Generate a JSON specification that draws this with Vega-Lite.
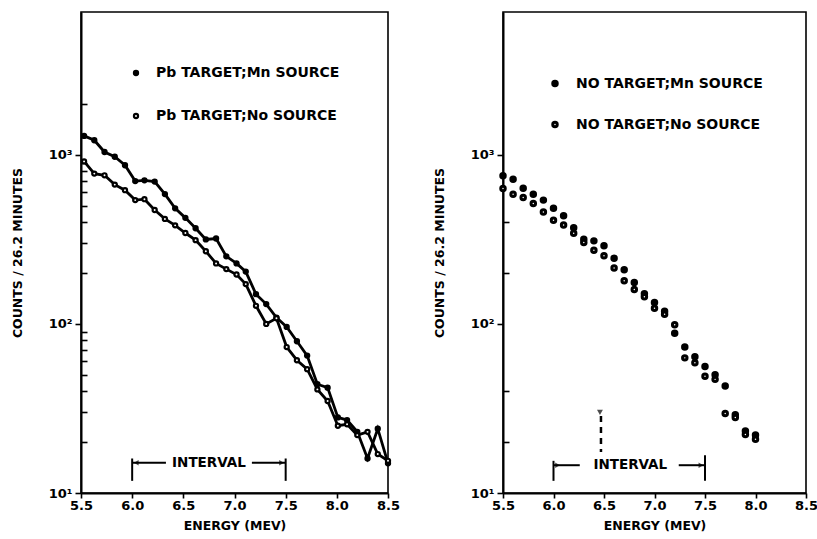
{
  "$schema": "https://vega.github.io/schema/vega-lite/v6.json",
  "background": "white",
  "padding": {"left": 10, "top": 11, "right": 0, "bottom": 0},
  "config": {
    "font": "DejaVu Sans",
    "view": {"stroke": "black", "strokeWidth": 1.6},
    "axis": {
      "domainColor": "black", "domainWidth": 2, "tickColor": "black", "tickWidth": 1.6,
      "labelFont": "DejaVu Sans", "labelFontWeight": "bold", "labelFontSize": 13, "labelColor": "black",
      "titleFont": "DejaVu Sans", "titleFontWeight": "bold", "titleFontSize": 12.5, "titleColor": "black",
      "grid": false
    },
    "legend": {
      "orient": "none", "title": null, "symbolType": "circle", "symbolSize": 17,
      "symbolStrokeColor": "black", "symbolStrokeWidth": 2.2,
      "labelFont": "DejaVu Sans", "labelFontWeight": "bold", "labelFontSize": 14, "labelColor": "black",
      "labelOffset": 13, "labelLimit": 400
    }
  },
  "resolve": {"scale": {"fill": "independent"}, "legend": {"fill": "independent"}},
  "spacing": 31,
  "datasets": {
    "left": [
      {"energy": 5.53, "counts": 1295, "series": "Pb TARGET;Mn SOURCE"},
      {"energy": 5.63, "counts": 1220, "series": "Pb TARGET;Mn SOURCE"},
      {"energy": 5.73, "counts": 1040, "series": "Pb TARGET;Mn SOURCE"},
      {"energy": 5.83, "counts": 975, "series": "Pb TARGET;Mn SOURCE"},
      {"energy": 5.93, "counts": 868, "series": "Pb TARGET;Mn SOURCE"},
      {"energy": 6.03, "counts": 700, "series": "Pb TARGET;Mn SOURCE"},
      {"energy": 6.12, "counts": 707, "series": "Pb TARGET;Mn SOURCE"},
      {"energy": 6.22, "counts": 695, "series": "Pb TARGET;Mn SOURCE"},
      {"energy": 6.32, "counts": 586, "series": "Pb TARGET;Mn SOURCE"},
      {"energy": 6.42, "counts": 483, "series": "Pb TARGET;Mn SOURCE"},
      {"energy": 6.52, "counts": 424, "series": "Pb TARGET;Mn SOURCE"},
      {"energy": 6.62, "counts": 368, "series": "Pb TARGET;Mn SOURCE"},
      {"energy": 6.72, "counts": 316, "series": "Pb TARGET;Mn SOURCE"},
      {"energy": 6.82, "counts": 320, "series": "Pb TARGET;Mn SOURCE"},
      {"energy": 6.92, "counts": 251, "series": "Pb TARGET;Mn SOURCE"},
      {"energy": 7.02, "counts": 228, "series": "Pb TARGET;Mn SOURCE"},
      {"energy": 7.11, "counts": 204, "series": "Pb TARGET;Mn SOURCE"},
      {"energy": 7.21, "counts": 150, "series": "Pb TARGET;Mn SOURCE"},
      {"energy": 7.31, "counts": 131, "series": "Pb TARGET;Mn SOURCE"},
      {"energy": 7.41, "counts": 109, "series": "Pb TARGET;Mn SOURCE"},
      {"energy": 7.51, "counts": 96, "series": "Pb TARGET;Mn SOURCE"},
      {"energy": 7.61, "counts": 79, "series": "Pb TARGET;Mn SOURCE"},
      {"energy": 7.71, "counts": 65, "series": "Pb TARGET;Mn SOURCE"},
      {"energy": 7.81, "counts": 44, "series": "Pb TARGET;Mn SOURCE"},
      {"energy": 7.91, "counts": 42, "series": "Pb TARGET;Mn SOURCE"},
      {"energy": 8.01, "counts": 28, "series": "Pb TARGET;Mn SOURCE"},
      {"energy": 8.10, "counts": 27, "series": "Pb TARGET;Mn SOURCE"},
      {"energy": 8.20, "counts": 23, "series": "Pb TARGET;Mn SOURCE"},
      {"energy": 8.30, "counts": 16, "series": "Pb TARGET;Mn SOURCE"},
      {"energy": 8.40, "counts": 24, "series": "Pb TARGET;Mn SOURCE"},
      {"energy": 8.50, "counts": 15, "series": "Pb TARGET;Mn SOURCE"},
      {"energy": 5.53, "counts": 915, "series": "Pb TARGET;No SOURCE"},
      {"energy": 5.63, "counts": 775, "series": "Pb TARGET;No SOURCE"},
      {"energy": 5.73, "counts": 757, "series": "Pb TARGET;No SOURCE"},
      {"energy": 5.83, "counts": 667, "series": "Pb TARGET;No SOURCE"},
      {"energy": 5.93, "counts": 618, "series": "Pb TARGET;No SOURCE"},
      {"energy": 6.03, "counts": 540, "series": "Pb TARGET;No SOURCE"},
      {"energy": 6.12, "counts": 547, "series": "Pb TARGET;No SOURCE"},
      {"energy": 6.22, "counts": 472, "series": "Pb TARGET;No SOURCE"},
      {"energy": 6.32, "counts": 418, "series": "Pb TARGET;No SOURCE"},
      {"energy": 6.42, "counts": 383, "series": "Pb TARGET;No SOURCE"},
      {"energy": 6.52, "counts": 345, "series": "Pb TARGET;No SOURCE"},
      {"energy": 6.62, "counts": 313, "series": "Pb TARGET;No SOURCE"},
      {"energy": 6.72, "counts": 269, "series": "Pb TARGET;No SOURCE"},
      {"energy": 6.82, "counts": 228, "series": "Pb TARGET;No SOURCE"},
      {"energy": 6.92, "counts": 211, "series": "Pb TARGET;No SOURCE"},
      {"energy": 7.02, "counts": 196, "series": "Pb TARGET;No SOURCE"},
      {"energy": 7.11, "counts": 172, "series": "Pb TARGET;No SOURCE"},
      {"energy": 7.21, "counts": 128, "series": "Pb TARGET;No SOURCE"},
      {"energy": 7.31, "counts": 100, "series": "Pb TARGET;No SOURCE"},
      {"energy": 7.41, "counts": 108, "series": "Pb TARGET;No SOURCE"},
      {"energy": 7.51, "counts": 73, "series": "Pb TARGET;No SOURCE"},
      {"energy": 7.61, "counts": 61, "series": "Pb TARGET;No SOURCE"},
      {"energy": 7.71, "counts": 54, "series": "Pb TARGET;No SOURCE"},
      {"energy": 7.81, "counts": 41, "series": "Pb TARGET;No SOURCE"},
      {"energy": 7.91, "counts": 35, "series": "Pb TARGET;No SOURCE"},
      {"energy": 8.01, "counts": 25, "series": "Pb TARGET;No SOURCE"},
      {"energy": 8.10, "counts": 25.5, "series": "Pb TARGET;No SOURCE"},
      {"energy": 8.20, "counts": 22, "series": "Pb TARGET;No SOURCE"},
      {"energy": 8.30, "counts": 23, "series": "Pb TARGET;No SOURCE"},
      {"energy": 8.40, "counts": 17, "series": "Pb TARGET;No SOURCE"},
      {"energy": 8.50, "counts": 15.5, "series": "Pb TARGET;No SOURCE"}
    ],
    "right": [
      {"energy": 5.5, "counts": 752, "series": "NO TARGET;Mn SOURCE"},
      {"energy": 5.6, "counts": 718, "series": "NO TARGET;Mn SOURCE"},
      {"energy": 5.7, "counts": 635, "series": "NO TARGET;Mn SOURCE"},
      {"energy": 5.8, "counts": 585, "series": "NO TARGET;Mn SOURCE"},
      {"energy": 5.9, "counts": 540, "series": "NO TARGET;Mn SOURCE"},
      {"energy": 6.0, "counts": 484, "series": "NO TARGET;Mn SOURCE"},
      {"energy": 6.1, "counts": 436, "series": "NO TARGET;Mn SOURCE"},
      {"energy": 6.2, "counts": 371, "series": "NO TARGET;Mn SOURCE"},
      {"energy": 6.3, "counts": 317, "series": "NO TARGET;Mn SOURCE"},
      {"energy": 6.4, "counts": 310, "series": "NO TARGET;Mn SOURCE"},
      {"energy": 6.5, "counts": 290, "series": "NO TARGET;Mn SOURCE"},
      {"energy": 6.6, "counts": 245, "series": "NO TARGET;Mn SOURCE"},
      {"energy": 6.7, "counts": 209, "series": "NO TARGET;Mn SOURCE"},
      {"energy": 6.8, "counts": 176, "series": "NO TARGET;Mn SOURCE"},
      {"energy": 6.9, "counts": 151, "series": "NO TARGET;Mn SOURCE"},
      {"energy": 7.0, "counts": 134, "series": "NO TARGET;Mn SOURCE"},
      {"energy": 7.1, "counts": 119, "series": "NO TARGET;Mn SOURCE"},
      {"energy": 7.2, "counts": 88, "series": "NO TARGET;Mn SOURCE"},
      {"energy": 7.3, "counts": 73, "series": "NO TARGET;Mn SOURCE"},
      {"energy": 7.4, "counts": 64, "series": "NO TARGET;Mn SOURCE"},
      {"energy": 7.5, "counts": 56, "series": "NO TARGET;Mn SOURCE"},
      {"energy": 7.6, "counts": 50, "series": "NO TARGET;Mn SOURCE"},
      {"energy": 7.7, "counts": 43, "series": "NO TARGET;Mn SOURCE"},
      {"energy": 7.8, "counts": 29, "series": "NO TARGET;Mn SOURCE"},
      {"energy": 7.9, "counts": 23.3, "series": "NO TARGET;Mn SOURCE"},
      {"energy": 8.0, "counts": 22, "series": "NO TARGET;Mn SOURCE"},
      {"energy": 5.5, "counts": 632, "series": "NO TARGET;No SOURCE"},
      {"energy": 5.6, "counts": 585, "series": "NO TARGET;No SOURCE"},
      {"energy": 5.7, "counts": 559, "series": "NO TARGET;No SOURCE"},
      {"energy": 5.8, "counts": 515, "series": "NO TARGET;No SOURCE"},
      {"energy": 5.9, "counts": 460, "series": "NO TARGET;No SOURCE"},
      {"energy": 6.0, "counts": 411, "series": "NO TARGET;No SOURCE"},
      {"energy": 6.1, "counts": 385, "series": "NO TARGET;No SOURCE"},
      {"energy": 6.2, "counts": 344, "series": "NO TARGET;No SOURCE"},
      {"energy": 6.3, "counts": 303, "series": "NO TARGET;No SOURCE"},
      {"energy": 6.4, "counts": 273, "series": "NO TARGET;No SOURCE"},
      {"energy": 6.5, "counts": 253, "series": "NO TARGET;No SOURCE"},
      {"energy": 6.6, "counts": 214, "series": "NO TARGET;No SOURCE"},
      {"energy": 6.7, "counts": 180, "series": "NO TARGET;No SOURCE"},
      {"energy": 6.8, "counts": 160, "series": "NO TARGET;No SOURCE"},
      {"energy": 6.9, "counts": 145, "series": "NO TARGET;No SOURCE"},
      {"energy": 7.0, "counts": 124, "series": "NO TARGET;No SOURCE"},
      {"energy": 7.1, "counts": 114, "series": "NO TARGET;No SOURCE"},
      {"energy": 7.2, "counts": 99, "series": "NO TARGET;No SOURCE"},
      {"energy": 7.3, "counts": 63, "series": "NO TARGET;No SOURCE"},
      {"energy": 7.4, "counts": 59, "series": "NO TARGET;No SOURCE"},
      {"energy": 7.5, "counts": 49, "series": "NO TARGET;No SOURCE"},
      {"energy": 7.6, "counts": 47, "series": "NO TARGET;No SOURCE"},
      {"energy": 7.7, "counts": 29.5, "series": "NO TARGET;No SOURCE"},
      {"energy": 7.8, "counts": 28, "series": "NO TARGET;No SOURCE"},
      {"energy": 7.9, "counts": 22.2, "series": "NO TARGET;No SOURCE"},
      {"energy": 8.0, "counts": 20.8, "series": "NO TARGET;No SOURCE"}
    ]
  },
  "hconcat": [
    {
      "width": 307,
      "height": 481,
      "data": {"name": "left"},
      "encoding": {
        "x": {"field": "energy", "type": "quantitative",
          "scale": {"domain": [5.5, 8.5], "nice": false, "zero": false},
          "axis": {"title": "ENERGY (MEV)", "values": [5.5, 6, 6.5, 7, 7.5, 8, 8.5], "format": ".1f",
            "labelFlush": false, "tickSize": 5, "labelPadding": 1, "titlePadding": 7}},
        "y": {"field": "counts", "type": "quantitative",
          "scale": {"type": "log", "domain": [10, 7000], "nice": false},
          "axis": {"title": "COUNTS / 26.2 MINUTES",
            "values": [10, 20, 30, 40, 50, 60, 70, 80, 90, 100, 200, 300, 400, 500, 600, 700, 800, 900, 1000, 2000],
            "labelExpr": "datum.value == 10 ? '10¹' : datum.value == 100 ? '10²' : datum.value == 1000 ? '10³' : ''",
            "tickSize": {"condition": {"test": "datum.value == 10 || datum.value == 100 || datum.value == 1000", "value": 6}, "value": -6},
            "labelPadding": 3, "titlePadding": 24, "labelOverlap": false}}
      },
      "layer": [
        {"mark": {"type": "line", "color": "black", "strokeWidth": 2.8}, "encoding": {"detail": {"field": "series"}}},
        {"mark": {"type": "circle", "stroke": "black", "strokeWidth": 2.2, "size": 17, "opacity": 1},
          "encoding": {"fill": {"field": "series", "type": "nominal",
            "scale": {"domain": ["Pb TARGET;Mn SOURCE", "Pb TARGET;No SOURCE"], "range": ["black", "white"]},
            "legend": {"legendX": 48, "legendY": 54, "rowPadding": 29}}}},
        {"data": {"values": [{"energy": 6.0, "counts": 11.8, "counts2": 16.0}, {"energy": 7.5, "counts": 11.8, "counts2": 16.0}]},
          "mark": {"type": "rule", "color": "black", "strokeWidth": 2},
          "encoding": {"y2": {"field": "counts2"}}},
        {"data": {"values": [{"energy": 6.0, "energy2": 6.33, "counts": 15.1}, {"energy": 7.17, "energy2": 7.5, "counts": 15.1}]},
          "mark": {"type": "rule", "color": "black", "strokeWidth": 2},
          "encoding": {"x2": {"field": "energy2"}}},
        {"data": {"values": [{"energy": 6.04, "counts": 15.1, "dir": "triangle-left"}, {"energy": 7.46, "counts": 15.1, "dir": "triangle-right"}]},
          "mark": {"type": "point", "filled": true, "color": "black", "size": 30},
          "encoding": {"shape": {"field": "dir", "type": "nominal", "scale": null}}},
        {"data": {"values": [{"energy": 6.75, "counts": 15.1, "label": "INTERVAL"}]},
          "mark": {"type": "text", "font": "DejaVu Sans", "fontWeight": "bold", "fontSize": 13.5, "color": "black", "baseline": "middle"},
          "encoding": {"text": {"field": "label"}}}
      ]
    },
    {
      "width": 303,
      "height": 481,
      "data": {"name": "right"},
      "encoding": {
        "x": {"field": "energy", "type": "quantitative",
          "scale": {"domain": [5.5, 8.5], "nice": false, "zero": false},
          "axis": {"title": "ENERGY (MEV)", "values": [5.5, 6, 6.5, 7, 7.5, 8, 8.5], "format": ".1f",
            "labelFlush": false, "tickSize": 5, "labelPadding": 1, "titlePadding": 7}},
        "y": {"field": "counts", "type": "quantitative",
          "scale": {"type": "log", "domain": [10, 7000], "nice": false},
          "axis": {"title": "COUNTS / 26.2 MINUTES",
            "values": [10, 20, 40, 100, 200, 400, 1000],
            "labelExpr": "datum.value == 10 ? '10¹' : datum.value == 100 ? '10²' : datum.value == 1000 ? '10³' : ''",
            "tickSize": {"condition": {"test": "datum.value == 10 || datum.value == 100 || datum.value == 1000", "value": 6}, "value": -6},
            "labelPadding": 3, "titlePadding": 24, "labelOverlap": false}}
      },
      "layer": [
        {"mark": {"type": "circle", "stroke": "black", "strokeWidth": 3, "size": 20, "opacity": 1},
          "encoding": {"fill": {"field": "series", "type": "nominal",
            "scale": {"domain": ["NO TARGET;Mn SOURCE", "NO TARGET;No SOURCE"], "range": ["black", "white"]},
            "legend": {"legendX": 45, "legendY": 64.5, "rowPadding": 23, "symbolSize": 20, "symbolStrokeWidth": 3, "labelOffset": 14}}}},
        {"data": {"values": [{"energy": 6.0, "counts": 11.8, "counts2": 15.5}, {"energy": 7.5, "counts": 11.8, "counts2": 16.7}]},
          "mark": {"type": "rule", "color": "black", "strokeWidth": 2},
          "encoding": {"y2": {"field": "counts2"}}},
        {"data": {"values": [{"energy": 6.0, "energy2": 6.26, "counts": 14.6}, {"energy": 7.24, "energy2": 7.5, "counts": 14.6}]},
          "mark": {"type": "rule", "color": "black", "strokeWidth": 2},
          "encoding": {"x2": {"field": "energy2"}}},
        {"data": {"values": [{"energy": 6.04, "counts": 14.6, "dir": "triangle-right"}, {"energy": 7.46, "counts": 14.6, "dir": "triangle-right"}]},
          "mark": {"type": "point", "filled": true, "color": "black", "size": 30},
          "encoding": {"shape": {"field": "dir", "type": "nominal", "scale": null}}},
        {"data": {"values": [{"energy": 6.76, "counts": 14.6, "label": "INTERVAL"}]},
          "mark": {"type": "text", "font": "DejaVu Sans", "fontWeight": "bold", "fontSize": 13.5, "color": "black", "baseline": "middle"},
          "encoding": {"text": {"field": "label"}}},
        {"data": {"values": [{"energy": 6.47, "counts": 28.5, "counts2": 17.5}]},
          "mark": {"type": "rule", "color": "black", "strokeWidth": 2.5, "strokeDash": [6, 5]},
          "encoding": {"y2": {"field": "counts2"}}},
        {"data": {"values": [{"energy": 6.46, "counts": 30}]},
          "mark": {"type": "point", "filled": true, "color": "black", "size": 35, "shape": "triangle-down"},
          "encoding": {}}
      ]
    }
  ]
}
